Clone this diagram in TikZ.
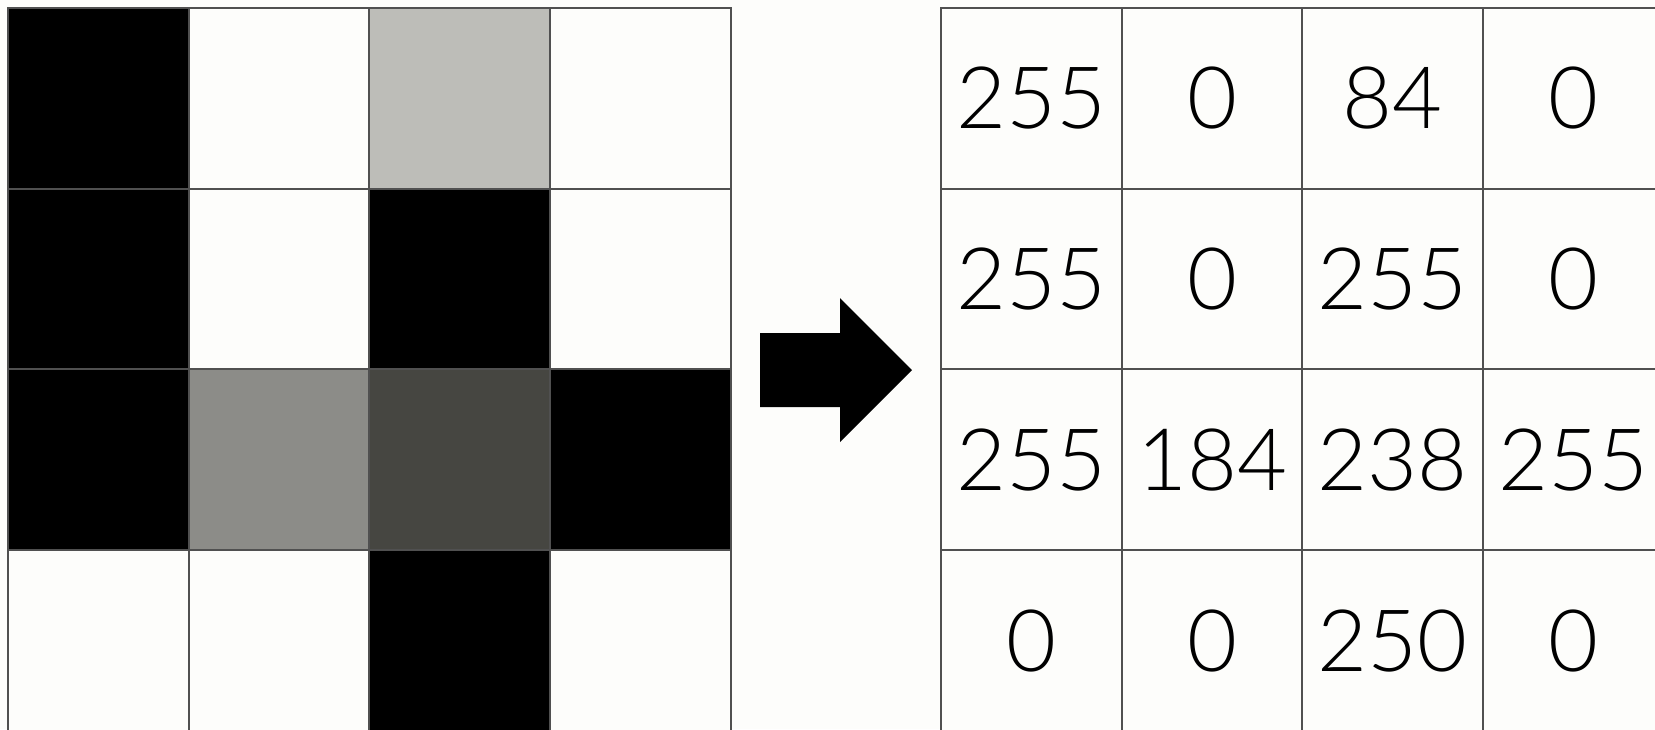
\documentclass[tikz,border=0pt]{standalone}
\usepackage{fontspec}
\setsansfont{Lato}[UprightFont=* Light]
\usetikzlibrary{positioning}

\definecolor{paper}{RGB}{253,253,251}
\definecolor{pxlight}{RGB}{189,189,184}
\definecolor{pxmid}{RGB}{140,140,136}
\definecolor{pxdark}{RGB}{70,70,65}
\definecolor{gridline}{RGB}{80,80,80}

\begin{document}
\begin{tikzpicture}[
  x=0.01cm, y=-0.01cm,
  font=\sffamily\fontsize{24.5}{28}\selectfont,
  pix/.style={draw=gridline, line width=0.6pt, anchor=north west,
    minimum size=1.807cm, inner sep=0pt, outer sep=0pt},
  val/.style={pix, fill=paper, text=black},
  blockarr/.style={fill=black}
]
  \useasboundingbox (0,0) rectangle (1655,729);
  \clip (0,0) rectangle (1655,729);
  \fill[paper] (0,0) rectangle (1655,729);

  % input pixels, row by row
  \foreach \row [count=\r from 0] in {{black,paper,pxlight,paper},
      {black,paper,black,paper},{black,pxmid,pxdark,black},
      {paper,paper,black,paper}}
    \foreach \c [count=\i from 0] in \row
      \node[pix, fill=\c] (in-\r-\i) at ({8+180.7*\i}, {8+180.7*\r}) {};

  % grey values
  \foreach \row [count=\r from 0] in {{255,0,84,0},{255,0,255,0},
      {255,184,238,255},{0,0,250,0}}
    \foreach \v [count=\i from 0] in \row
      \node[val] (out-\r-\i) at ({941+180.7*\i}, {8+180.7*\r}) {\v};

  % arrow between the two grids
  \coordinate (tail) at (760,369);
  \fill[blockarr] (tail) ++(0,-36) -- ++(80,0) -- ++(0,-35) -- ++(72,72)
    -- ++(-72,72) -- ++(0,-35) -- ++(-80,0) -- cycle;
\end{tikzpicture}
\end{document}
